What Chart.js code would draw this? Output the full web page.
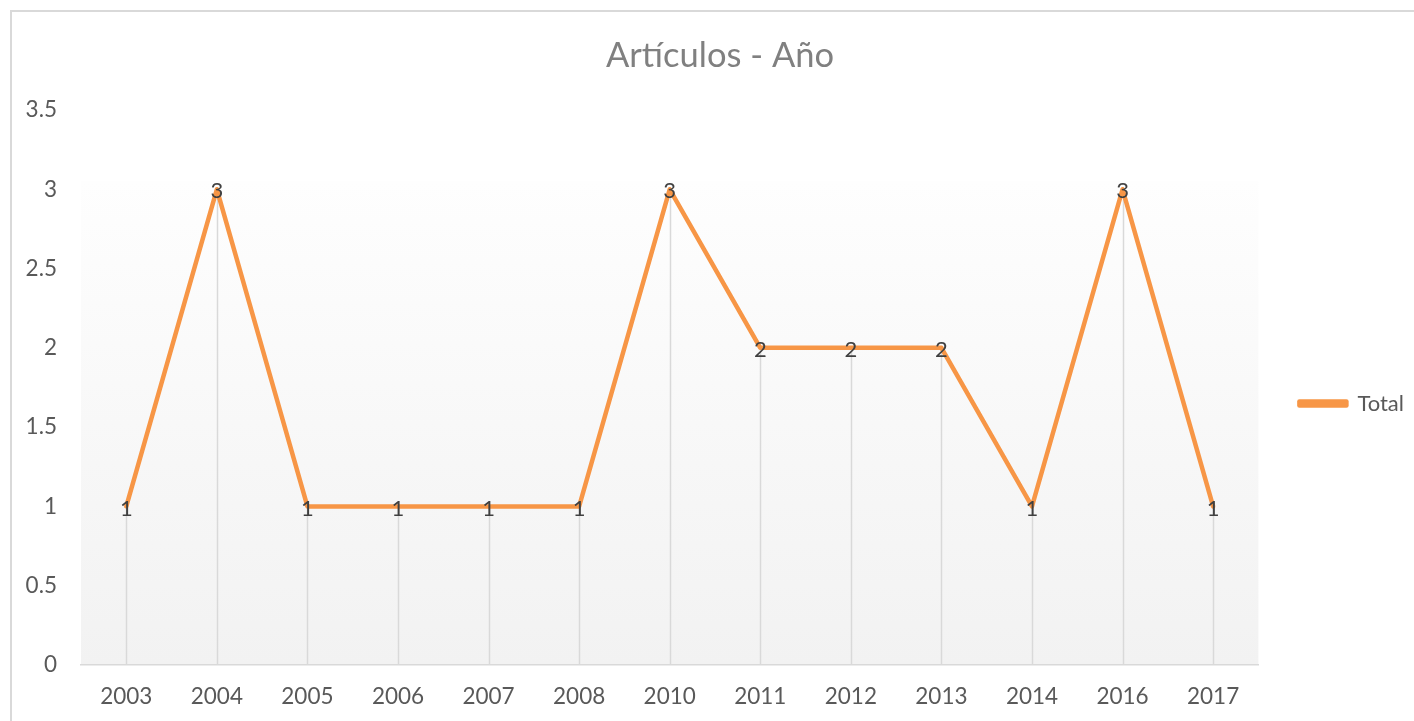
<!doctype html>
<html>
  <head>
    <meta charset="utf-8" />
    <title>Artículos - Año</title>
    <script src="https://cdn.jsdelivr.net/npm/chart.js@4/dist/chart.umd.min.js"></script>
    <style>
      html, body { margin: 0; padding: 0; background: #fff; overflow: hidden; }
      #frame {
        position: absolute; left: 10px; top: 10px;
        width: 1440px; height: 740px;
        border: 2px solid #d9d9d9; box-sizing: border-box;
      }
      #wrap { position: absolute; left: 0; top: 0; width: 1414px; height: 721px; }
    </style>
  </head>
  <body>
    <div id="frame"></div>
    <div id="wrap"><canvas id="chart"></canvas></div>
    <script>
      const anios = ["2003", "2004", "2005", "2006", "2007", "2008", "2010",
                     "2011", "2012", "2013", "2014", "2016", "2017"];
      const totales = [1, 3, 1, 1, 1, 1, 3, 2, 2, 2, 1, 3, 1];
      const tituloTexto = "Artículos - Año";
      const serieNombre = "Total";

      const naranja = "#f79646";
      const fuente = "Lato, 'Open Sans', sans-serif";

      // fondo degradado del área de trazado
      const fondo = {
        id: "fondo",
        beforeDraw(chart) {
          const { ctx, chartArea } = chart;
          const y = chart.scales.y;
          const top = y.getPixelForValue(3.05);
          const g = ctx.createLinearGradient(0, top, 0, chartArea.bottom);
          g.addColorStop(0, "#fefefe");
          g.addColorStop(1, "#f2f2f2");
          ctx.save();
          ctx.fillStyle = g;
          ctx.fillRect(chartArea.left, top, chartArea.right - chartArea.left, chartArea.bottom - top);
          ctx.restore();
        }
      };

      // líneas de proyección hasta el eje
      const lineasCaida = {
        id: "lineasCaida",
        beforeDatasetsDraw(chart) {
          const { ctx } = chart;
          const base = chart.scales.y.getPixelForValue(0);
          const meta = chart.getDatasetMeta(0);
          ctx.save();
          ctx.strokeStyle = "#d9d9d9";
          ctx.lineWidth = 1.5;
          meta.data.forEach((p) => {
            ctx.beginPath();
            ctx.moveTo(Math.round(p.x) + 0.5, p.y);
            ctx.lineTo(Math.round(p.x) + 0.5, base);
            ctx.stroke();
          });
          ctx.restore();
        }
      };

      // etiquetas de datos centradas en el punto
      const etiquetas = {
        id: "etiquetas",
        afterDatasetsDraw(chart) {
          const { ctx } = chart;
          const meta = chart.getDatasetMeta(0);
          ctx.save();
          ctx.font = "22px " + fuente;
          ctx.fillStyle = "#404040";
          ctx.textAlign = "center";
          ctx.textBaseline = "middle";
          meta.data.forEach((p, i) => {
            ctx.fillText(String(totales[i]), p.x, p.y + 2);
          });
          ctx.restore();
        }
      };

      new Chart(document.getElementById("chart"), {
        type: "line",
        data: {
          labels: anios,
          datasets: [{
            label: serieNombre,
            data: totales,
            borderColor: naranja,
            backgroundColor: naranja,
            borderWidth: 4.5,
            borderJoinStyle: "round",
            borderCapStyle: "round",
            pointRadius: 0,
            pointHoverRadius: 0,
            tension: 0
          }]
        },
        options: {
          responsive: true,
          maintainAspectRatio: false,
          animation: false,
          events: [],
          layout: { padding: { left: 26, right: 0, top: 0, bottom: 0 } },
          scales: {
            x: {
              offset: true,
              grid: { display: false, drawTicks: false },
              border: { display: true, color: "#d9d9d9", width: 1.5 },
              ticks: { color: "#595959", font: { family: fuente, size: 22.5 }, padding: 18, maxRotation: 0, autoSkip: false },
              afterFit(s) { s.height = 56; }
            },
            y: {
              min: 0,
              max: 3.5,
              grid: { display: false, drawTicks: false },
              border: { display: false },
              ticks: {
                stepSize: 0.5,
                color: "#595959",
                font: { family: fuente, size: 22.5 },
                padding: 24,
                callback: (v) => String(Math.round(v * 10) / 10)
              },
              afterFit(s) { s.width = 55; }
            }
          },
          plugins: {
            title: {
              display: true,
              text: tituloTexto,
              color: "#808080",
              font: { family: fuente, size: 34.5, weight: "normal" },
              padding: { top: 35, bottom: 33.6 }
            },
            legend: {
              display: true,
              position: "right",
              title: { display: true, text: " ", font: { size: 10 }, padding: { top: 37, bottom: 37 } },
              labels: {
                color: "#595959",
                font: { family: fuente, size: 22 },
                boxWidth: 47,
                boxHeight: 4,
                padding: 41
              }
            },
            tooltip: { enabled: false }
          }
        },
        plugins: [fondo, lineasCaida, etiquetas]
      });
    </script>
  </body>
</html>
